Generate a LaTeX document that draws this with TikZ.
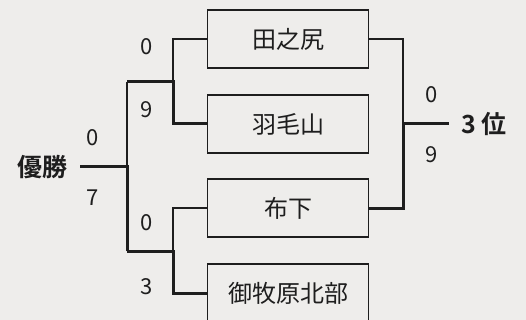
\documentclass[tikz,border=0pt]{standalone}
\usepackage{fontspec}
\setmainfont{Noto Sans CJK JP}[BoldFont={Noto Sans CJK JP Bold}]
\usepackage{xcolor}
\usepackage{tikz}
\definecolor{paper}{RGB}{238,237,235}
\definecolor{bracketink}{RGB}{30,30,30}

\tikzset{
  team/.style={draw=bracketink,line width=1.4pt,minimum width=161pt,minimum height=58pt,
    inner sep=0pt,text=bracketink,font=\fontsize{24}{24}\selectfont},
  score/.style={text=bracketink,font=\fontsize{22}{22}\selectfont,inner sep=0pt},
  title/.style={text=bracketink,font=\fontsize{25}{25}\selectfont\bfseries,inner ysep=0pt,inner xsep=12pt},
  lose/.style={draw=bracketink,line width=1.4pt},
  win/.style={draw=bracketink,line width=3pt},
}

\begin{document}
\begin{tikzpicture}[x=1pt,y=-1pt]
  \useasboundingbox (0,0) rectangle (526,320);
  \clip (0,0) rectangle (526,320);
  \fill[paper] (0,0) rectangle (526,320);
  % teams
  \node[team] (tanoshiri) at (288,39) {田之尻};
  \node[team] (hakeyama) at (288,124) {羽毛山};
  \node[team] (nunoshita) at (288,208) {布下};
  \node[team] (mimaki) at (288,293) {御牧原北部};
  % junctions
  \coordinate (semiA) at (173,82);
  \coordinate (semiB) at (173,251);
  \coordinate (finA) at (127,82);
  \coordinate (finB) at (127,251);
  \coordinate (champ) at (127,167);
  \coordinate (third) at (403,124);
  \node[title,anchor=east] (yusho) at (80,167) {優勝};
  \node[title,anchor=west] (sani) at (449,124) {3 位};
  % semifinals
  \draw[lose] (tanoshiri.west) -| (semiA);
  \draw[win] (hakeyama.west) -| (semiA) -- (finA);
  \draw[lose] (nunoshita.west) -| (semiB);
  \draw[win] (mimaki.west) -| (semiB) -- (finB);
  % final
  \draw[lose] (finA) -- (champ);
  \draw[win] (finB) -- (champ) -- (yusho.east);
  % third place
  \draw[lose] (tanoshiri.east) -| (third);
  \draw[win] (nunoshita.east) -| (third) -- (sani.west);
  % scores
  \node[score] (s1) at (147,47) {0};
  \node[score] (s2) at (147,110) {9};
  \node[score] (s3) at (147,223) {0};
  \node[score] (s4) at (147,287) {3};
  \node[score] (f1) at (93,138) {0};
  \node[score] (f2) at (93,198) {7};
  \node[score] (t1) at (432,95) {0};
  \node[score] (t2) at (432,155) {9};
\end{tikzpicture}
\end{document}
